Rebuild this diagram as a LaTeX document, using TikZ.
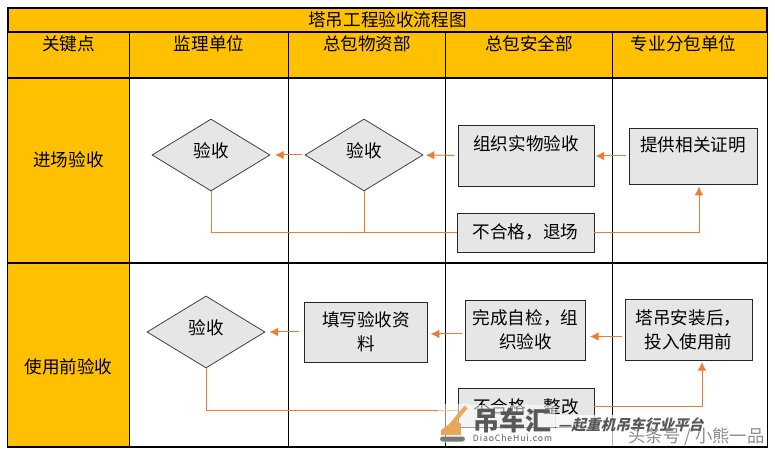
\documentclass[tikz,border=0pt]{standalone}
\usepackage{fontspec}
\setmainfont{Noto Sans CJK SC}
\usetikzlibrary{shapes.geometric, arrows.meta}
\definecolor{headfill}{HTML}{FFC000}
\definecolor{boxfill}{HTML}{E6E6E6}
\definecolor{flowline}{HTML}{ED7D31}
\definecolor{markgrey}{HTML}{585858}
\definecolor{craneorange}{HTML}{E9A558}
\tikzstyle{headcell} = [rectangle, draw=black, line width=0.9pt, fill=headfill, inner sep=0pt, font=\fontsize{13.2}{15}\selectfont]
\tikzstyle{bodycell} = [rectangle, draw=black, line width=0.9pt, fill=white, inner sep=0pt]
\tikzstyle{procbox} = [rectangle, draw=black!85, line width=0.7pt, fill=boxfill, inner sep=0pt, align=center, font=\fontsize{13.2}{18}\selectfont]
\tikzstyle{check} = [diamond, draw=black!75, line width=0.6pt, fill=boxfill, inner sep=0pt, aspect=1.64, minimum width=88.5pt, minimum height=54pt]
\tikzstyle{tiptext} = [font=\fontsize{13.2}{15}\selectfont]
\tikzstyle{flow} = [line width=0.75pt, draw=flowline]
\tikzstyle{arrow} = [flow, -{Latex[length=6.5pt,width=6.5pt]}, shorten <=2.25pt, shorten >=3pt]
\begin{document}
\begin{tikzpicture}[x=0.75pt, y=-0.75pt]
            \useasboundingbox (0,0) rectangle (775,452);
            % table
            \node [headcell, minimum width=569.25pt, minimum height=18pt] at (387.5,20) (title) {塔吊工程验收流程图};
            \node [headcell, minimum width=91.5pt, minimum height=34.5pt, label={[tiptext, yshift=8.25pt]center:关键点}] at (68.5,55) (keyhead) {};
            \node [headcell, minimum width=119.25pt, minimum height=34.5pt, label={[tiptext, yshift=8.25pt]center:监理单位}] at (209,55) (superhead) {};
            \node [headcell, minimum width=117.75pt, minimum height=34.5pt, label={[tiptext, yshift=8.25pt]center:总包物资部}] at (367,55) (supplyhead) {};
            \node [headcell, minimum width=125.25pt, minimum height=34.5pt, label={[tiptext, yshift=8.25pt]center:总包安全部}] at (529,55) (safetyhead) {};
            \node [headcell, minimum width=116.25pt, minimum height=34.5pt, label={[tiptext, yshift=8.25pt, xshift=-4.5pt]center:专业分包单位}] at (689.75,55) (subhead) {};

            \node [headcell, minimum width=91.5pt, minimum height=138.75pt, label={[tiptext, yshift=7.9pt]center:进场验收}] at (68.5,170.5) (rowa) {};
            \node [headcell, minimum width=91.5pt, minimum height=138pt, label={[tiptext, yshift=-9pt]center:使用前验收}] at (68.5,355) (rowb) {};
            \node [bodycell, minimum width=119.25pt, minimum height=138.75pt] at (209,170.5) (a1) {};
            \node [bodycell, minimum width=117.75pt, minimum height=138.75pt] at (367,170.5) (a2) {};
            \node [bodycell, minimum width=125.25pt, minimum height=138.75pt] at (529,170.5) (a3) {};
            \node [bodycell, minimum width=116.25pt, minimum height=138.75pt] at (689.75,170.5) (a4) {};
            \node [bodycell, minimum width=119.25pt, minimum height=138pt] at (209,355) (b1) {};
            \node [bodycell, minimum width=117.75pt, minimum height=138pt] at (367,355) (b2) {};
            \node [bodycell, minimum width=125.25pt, minimum height=138pt] at (529,355) (b3) {};
            \node [bodycell, minimum width=116.25pt, minimum height=138pt] at (689.75,355) (b4) {};

            % steps
            \node [check, label={[tiptext, yshift=3pt]center:验收}] at (211,155) (checka) {};
            \node [check, label={[tiptext, yshift=3pt]center:验收}] at (364,155) (checkb) {};
            \node [check, label={[tiptext, yshift=3pt]center:验收}] at (206,332) (checkc) {};
            \node [procbox, minimum width=102pt, minimum height=45.75pt, label={[tiptext, yshift=8.6pt]center:组织实物验收}] at (526,155.5) (organize) {};
            \node [procbox, minimum width=96pt, minimum height=42pt, label={[tiptext, yshift=8pt]center:提供相关证明}] at (693,156) (provide) {};
            \node [procbox, minimum width=102.75pt, minimum height=29.25pt] at (525.5,232.5) (reject) {不合格，退场};
            \node [procbox, minimum width=92.25pt, minimum height=45pt] at (366,332) (fillin) {填写验收资\\料};
            \node [procbox, minimum width=90pt, minimum height=45pt] at (525.5,330) (selfcheck) {完成自检，组\\织验收};
            \node [procbox, minimum width=95.25pt, minimum height=45.75pt] at (688.5,329.5) (install) {塔吊安装后，\\投入使用前};
            \node [procbox, minimum width=102pt, minimum height=29.25pt] at (526,407.5) (rectify) {不合格，整改};

            % connectors
            \coordinate (turna) at (211,233);
            \coordinate (turnb) at (364,233);
            \coordinate (turnc) at (206,410);
            \draw [arrow, shorten >=2pt] (organize) -- (checkb);
            \draw [arrow, shorten >=3.5pt] (checkb) -- (checka);
            \draw [arrow, shorten >=0.75pt] (provide.west) -- (organize.east |- provide.west);
            \draw [flow] (checka) -- (turna) -- (reject.west |- turna);
            \draw [flow] (checkb) -- (turnb);
            \draw [arrow, shorten <=0pt, shorten >=2pt] (reject.east) -| (699,184);
            \draw [arrow, shorten <=3.75pt] (fillin) -- (checkc);
            \draw [arrow, shorten >=2pt] (selfcheck.west |- 0,334) -- (fillin.east |- 0,334);
            \draw [arrow] (install.west |- 0,336.5) -- (selfcheck.east |- 0,336.5);
            \draw [flow] (checkc) -- (turnc) -- (rectify.west |- turnc);
            \draw [arrow, shorten <=0pt, shorten >=1.5pt] (rectify.east |- 0,406) -| (702,360);

            % watermark
            \fill [white, opacity=0.55] (470,405) rectangle (555,434);
            \fill [white, opacity=0.7] (556,415) rectangle (766,446);
            \fill [white, opacity=0.55] (438,404) rectangle (470,443);
            \draw [craneorange, line width=3pt] (447,430) -- (466,407);
            \fill [craneorange] (441,430) -- (455,420) -- (461,424) -- (461,435) -- (441,435) -- cycle;
            \fill [markgrey!80, rounded corners=2pt] (440,436.5) rectangle (465,441.5);
            \node [text=markgrey, font=\fontsize{19.5}{20}\selectfont\bfseries, inner sep=0pt] at (512,420) (brand) {吊车汇};
            \node [text=markgrey, font=\fontsize{6.5}{8}\selectfont\addfontfeature{LetterSpace=10}, inner sep=0pt] at (512.5,438) (brandurl) {DiaoCheHui.com};
            \node [text=markgrey, font=\fontsize{11}{12}\selectfont\bfseries, inner sep=0pt, xslant=0.25] at (632,425) (slogan) {—起重机吊车行业平台};
            \node [text=black!45, font=\fontsize{13}{14}\selectfont, inner sep=0pt] at (696.5,437) (byline) {头条号 / 小熊一品};
            \end{tikzpicture}
\end{document}
